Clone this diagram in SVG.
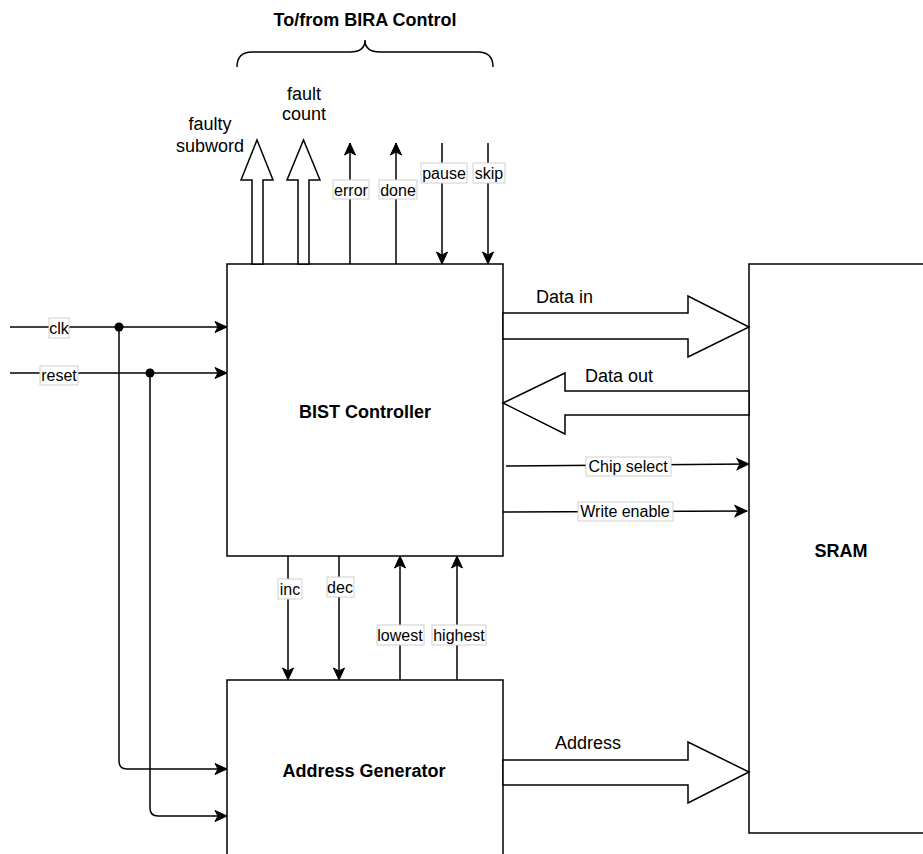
<svg xmlns="http://www.w3.org/2000/svg" width="923" height="854" viewBox="0 0 923 854">
  <style>
    .box { fill: #fff; stroke: #000; stroke-width: 1.5; }
    .wire { fill: none; stroke: #000; stroke-width: 1.5; }
    .bus { fill: #fff; stroke: #000; stroke-width: 1.5; stroke-linejoin: miter; }
    .lblbg { fill: #fff; stroke: #d0d0d0; stroke-width: 1; }
    .lbl { font-family: "Liberation Sans", Arial, sans-serif; font-size: 16px; fill: #000; text-anchor: middle; }
    .txt { font-family: "Liberation Sans", Arial, sans-serif; font-size: 18px; fill: #000; }
    .title { font-family: "Liberation Sans", Arial, sans-serif; font-size: 18px; font-weight: bold; fill: #000; text-anchor: middle; }
  </style>
  <defs>
    <marker id="arrow" markerUnits="userSpaceOnUse" markerWidth="14" markerHeight="12" refX="12" refY="5.5" orient="auto" overflow="visible">
      <path d="M0,0 L12,5.5 L0,11 L3,5.5 Z" fill="#000" stroke="#000" stroke-width="1"/>
    </marker>
  </defs>

  <rect width="923" height="854" fill="#fff"/>

  <!-- header brace for the BIRA interface -->
  <g id="bira-brace">
    <text class="title" x="365" y="26">To/from BIRA Control</text>
    <path class="wire" d="M237,67 Q237,52 252,52 H350 Q365,52 365,40 Q365,52 380,52 H478 Q493,52 493,67"/>
  </g>

  <!-- blocks -->
  <g id="bist-controller">
    <rect class="box" x="227" y="264" width="276" height="292"/>
    <text class="title" x="365" y="418">BIST Controller</text>
  </g>

  <g id="address-generator">
    <rect class="box" x="227" y="680" width="276" height="190"/>
    <text class="title" x="364" y="777">Address Generator</text>
  </g>

  <g id="sram">
    <rect class="box" x="749" y="264" width="190" height="569"/>
    <text class="title" x="841" y="557">SRAM</text>
  </g>

  <!-- connectors -->
  <g id="connectors">
    <!-- bus arrows -->
    <polygon class="bus" points="252,264 252,180 241,180 257,140 273,180 263,180 263,264"/>
    <polygon class="bus" points="298,264 298,180 287,180 303.5,140 320,180 309,180 309,264"/>
    <polygon class="bus" points="503,313 688,313 688,296 749,327 688,357 688,339 503,339"/>
    <polygon class="bus" points="749,391 565,391 565,373 503,403 565,434 565,415 749,415"/>
    <polygon class="bus" points="503,760 688,760 688,742 749,772 688,803 688,785 503,785"/>

    <!-- clock and reset -->
    <path class="wire" d="M10,327 H227" marker-end="url(#arrow)"/>
    <path class="wire" d="M10,373 H227" marker-end="url(#arrow)"/>
    <path class="wire" d="M119,327 V761 Q119,769 127,769 H227" marker-end="url(#arrow)"/>
    <path class="wire" d="M150,373 V808 Q150,816 158,816 H227" marker-end="url(#arrow)"/>
    <circle cx="119" cy="327" r="4.5" fill="#000"/>
    <circle cx="150" cy="373" r="4.5" fill="#000"/>

    <!-- BIRA handshake -->
    <path class="wire" d="M350,264 V143" marker-end="url(#arrow)"/>
    <path class="wire" d="M396,264 V143" marker-end="url(#arrow)"/>
    <path class="wire" d="M442,143 V264" marker-end="url(#arrow)"/>
    <path class="wire" d="M488,143 V264" marker-end="url(#arrow)"/>

    <!-- controller / address generator -->
    <path class="wire" d="M288,556 V680" marker-end="url(#arrow)"/>
    <path class="wire" d="M339,556 V680" marker-end="url(#arrow)"/>
    <path class="wire" d="M400,680 V556" marker-end="url(#arrow)"/>
    <path class="wire" d="M457,680 V556" marker-end="url(#arrow)"/>

    <!-- SRAM control -->
    <path class="wire" d="M506,466 L749,464" marker-end="url(#arrow)"/>
    <path class="wire" d="M503,512 L747,511" marker-end="url(#arrow)"/>

    <!-- connector labels -->
    <rect class="lblbg" x="49" y="318" width="20" height="20"/>
    <text class="lbl" x="59" y="334">clk</text>
    <rect class="lblbg" x="40" y="366" width="38" height="19"/>
    <text class="lbl" x="59" y="381">reset</text>

    <rect class="lblbg" x="333" y="180" width="36" height="19"/>
    <text class="lbl" x="351" y="196">error</text>
    <rect class="lblbg" x="379" y="180" width="38" height="19"/>
    <text class="lbl" x="398" y="196">done</text>
    <rect class="lblbg" x="421" y="163" width="46" height="20"/>
    <text class="lbl" x="444" y="179">pause</text>
    <rect class="lblbg" x="473" y="163" width="32" height="20"/>
    <text class="lbl" x="489" y="179">skip</text>

    <rect class="lblbg" x="278" y="579" width="24" height="20"/>
    <text class="lbl" x="290" y="595">inc</text>
    <rect class="lblbg" x="327" y="577" width="27" height="20"/>
    <text class="lbl" x="340" y="593">dec</text>
    <rect class="lblbg" x="377" y="625" width="47" height="20"/>
    <text class="lbl" x="400" y="641">lowest</text>
    <rect class="lblbg" x="432" y="625" width="54" height="20"/>
    <text class="lbl" x="459" y="641">highest</text>

    <rect class="lblbg" x="586" y="457" width="85" height="19"/>
    <text class="lbl" x="628" y="472">Chip select</text>
    <rect class="lblbg" x="578" y="502" width="95" height="19"/>
    <text class="lbl" x="625" y="517">Write enable</text>

    <!-- bus names -->
    <text class="txt" x="210" y="130" text-anchor="middle">faulty</text>
    <text class="txt" x="210" y="152" text-anchor="middle">subword</text>
    <text class="txt" x="304" y="100" text-anchor="middle">fault</text>
    <text class="txt" x="304" y="120" text-anchor="middle">count</text>
    <text class="txt" x="536" y="303">Data in</text>
    <text class="txt" x="585" y="382">Data out</text>
    <text class="txt" x="555" y="749">Address</text>
  </g>
</svg>
